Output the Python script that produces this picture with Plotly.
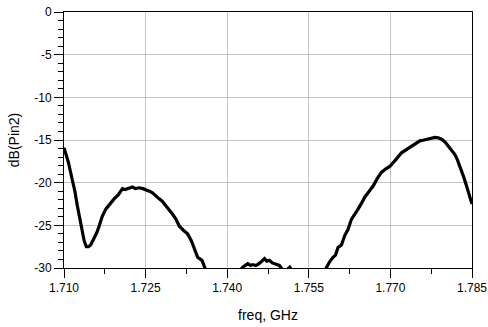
import plotly.graph_objects as go

freq_ghz = [
    1.7100, 1.7108, 1.7115, 1.7120, 1.71245, 1.7130, 1.71338, 1.7137, 1.7141, 1.7145,
    1.7149, 1.71553, 1.7160, 1.71645, 1.7170, 1.71768, 1.7183, 1.71921, 1.7200, 1.72074,
    1.7212, 1.72166, 1.7221, 1.72259, 1.7231, 1.72382, 1.7245, 1.72505, 1.7257, 1.72627,
    1.7269, 1.7275, 1.7281, 1.72874, 1.7293, 1.72996, 1.7306, 1.7312, 1.7320, 1.73272,
    1.7334, 1.73395, 1.73457, 1.73537, 1.7358, 1.7365, 1.7380, 1.7400, 1.7415, 1.7423,
    1.74286, 1.7433, 1.74378, 1.7443, 1.7447, 1.7452, 1.74562, 1.7462, 1.74685, 1.7473,
    1.74777, 1.7483, 1.7487, 1.7492, 1.7496, 1.7503, 1.7510, 1.7515, 1.7520, 1.7535,
    1.7550, 1.7565, 1.7578, 1.75822, 1.7588, 1.75945, 1.7599, 1.76037, 1.7610, 1.7616,
    1.7622, 1.76283, 1.7634, 1.76405, 1.7647, 1.76528, 1.7660, 1.76682, 1.7676, 1.76835,
    1.7691, 1.76989, 1.7710, 1.77204, 1.7730, 1.77388, 1.7746, 1.77542, 1.7762, 1.77695,
    1.7776, 1.77818, 1.7788, 1.77941, 1.7800, 1.78063, 1.7812, 1.78186, 1.7823, 1.78278,
    1.7834, 1.7840, 1.7845, 1.7850,
]
db_pin2 = [
    -15.9, -17.6, -19.6, -21.0, -22.7, -24.4, -25.8, -26.8, -27.5, -27.5,
    -27.3, -26.6, -25.9, -25.1, -24.0, -23.1, -22.6, -21.9, -21.4, -20.7,
    -20.8, -20.7, -20.6, -20.5, -20.7, -20.6, -20.7, -20.8, -21.0, -21.2,
    -21.5, -21.9, -22.2, -22.7, -23.2, -23.7, -24.3, -25.1, -25.6, -26.0,
    -26.8, -27.8, -28.75, -29.1, -29.8, -31.0, -32.5, -33.0, -31.5, -30.3,
    -29.9, -29.7, -29.5, -29.7, -29.6, -29.7, -29.6, -29.3, -28.9, -29.2,
    -29.1, -29.4, -29.5, -29.6, -29.7, -30.3, -30.2, -29.9, -30.4, -31.5,
    -32.5, -32.0, -30.5, -29.95, -29.3, -28.75, -28.5, -27.6, -27.3, -26.2,
    -25.5, -24.3, -23.8, -23.1, -22.4, -21.7, -21.1, -20.4, -19.5, -18.8,
    -18.4, -18.1, -17.3, -16.5, -16.1, -15.7, -15.4, -15.1, -15.0, -14.9,
    -14.8, -14.7, -14.75, -14.9, -15.2, -15.7, -16.1, -16.7, -17.3, -18.1,
    -19.2, -20.4, -21.4, -22.5,
]

x_tickvals = [1.710, 1.725, 1.740, 1.755, 1.770, 1.785]
x_ticktext = ["1.710", "1.725", "1.740", "1.755", "1.770", "1.785"]
y_tickvals = [-30, -25, -20, -15, -10, -5, 0]
y_ticktext = ["-30", "-25", "-20", "-15", "-10", "-5", "0"]

FONT = "Liberation Sans, Arial, Helvetica, sans-serif"

fig = go.Figure()
fig.add_trace(go.Scatter(
    x=freq_ghz, y=db_pin2, mode="lines",
    line=dict(color="black", width=3.2),
    showlegend=False, hoverinfo="skip",
))

axis_common = dict(
    showline=True, linecolor="black", linewidth=1, mirror=True,
    showgrid=True, gridcolor="#c4c4c4", gridwidth=1,
    ticks="outside", ticklen=9, tickcolor="black", tickwidth=1,
    zeroline=False, automargin=False,
    tickfont=dict(family=FONT, size=12, color="black"),
)

fig.update_layout(
    width=488, height=327,
    margin=dict(l=64, r=16, t=12, b=59),
    paper_bgcolor="white", plot_bgcolor="white",
    font=dict(family=FONT, color="black"),
    xaxis=dict(
        range=[1.710, 1.785], tickmode="array",
        tickvals=x_tickvals, ticktext=x_ticktext,
        minor=dict(tick0=1.710, dtick=0.0075, ticks="outside", ticklen=5,
                   tickcolor="black", showgrid=False),
        title=dict(text="freq, GHz", font=dict(family=FONT, size=14), standoff=15),
        **axis_common,
    ),
    yaxis=dict(
        range=[-30, 0], tickmode="array",
        tickvals=y_tickvals, ticktext=y_ticktext,
        minor=dict(tick0=0, dtick=1, ticks="outside", ticklen=5,
                   tickcolor="black", showgrid=False),
        title=dict(text="dB(Pin2)", font=dict(family=FONT, size=14), standoff=11),
        **axis_common,
    ),
)

fig.write_html("out.html")
